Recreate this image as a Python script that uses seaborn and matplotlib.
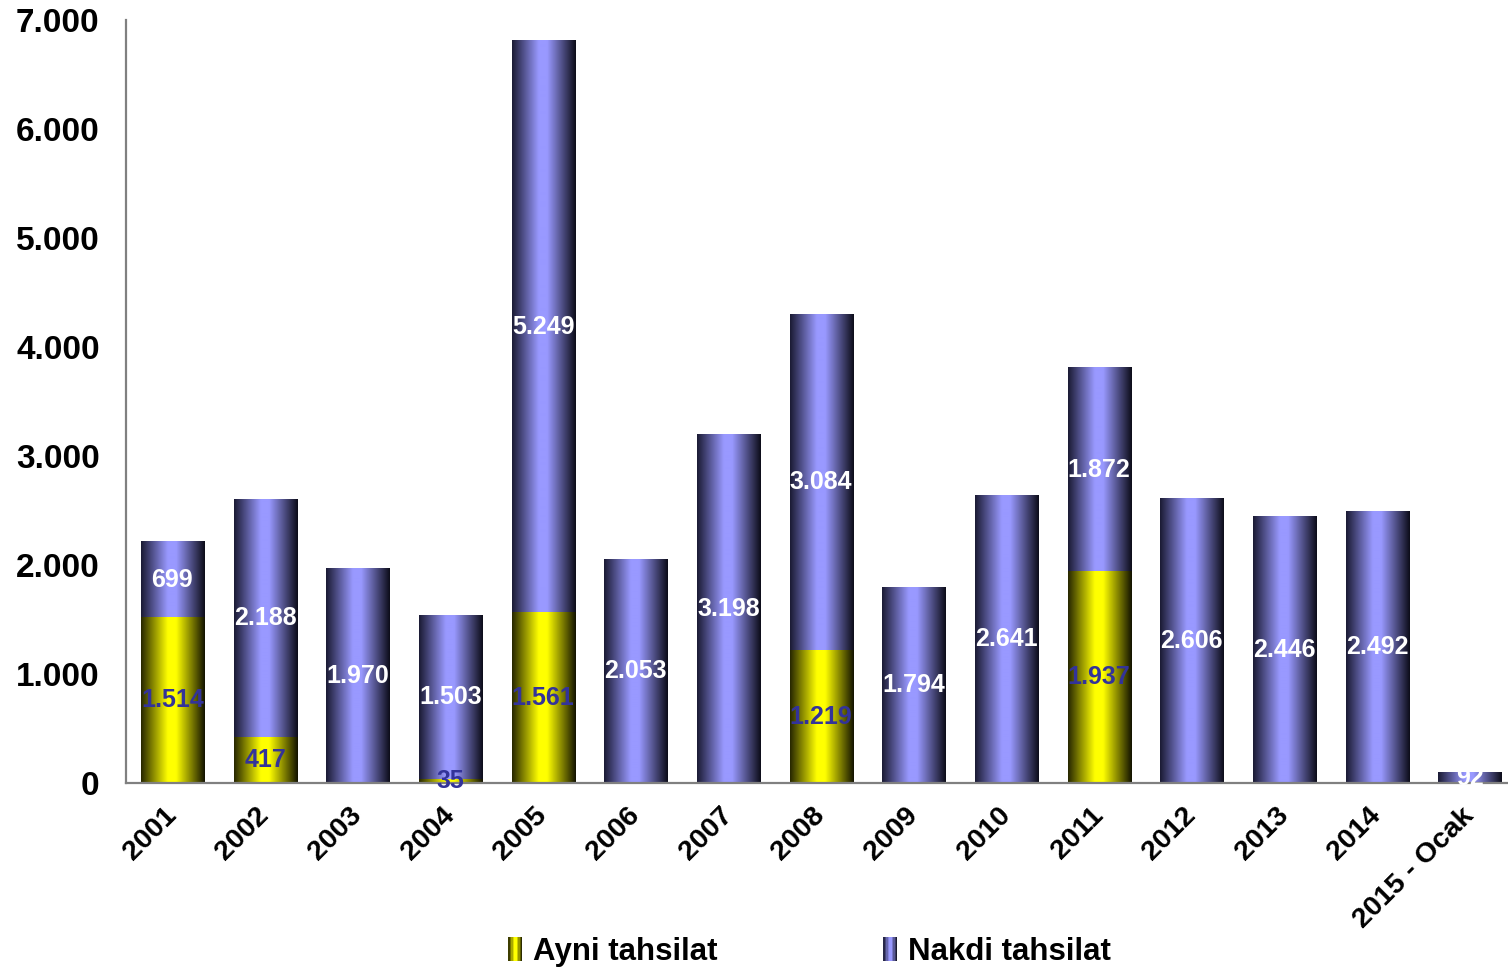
import numpy as np
import pandas as pd
import matplotlib
matplotlib.use("Agg")
import matplotlib.pyplot as plt
import matplotlib.transforms as mtransforms
import seaborn as sns
from matplotlib.colors import LinearSegmentedColormap
from matplotlib.legend_handler import HandlerBase
from matplotlib.patches import Rectangle

# chart data
years = ["2001", "2002", "2003", "2004", "2005", "2006", "2007", "2008",
         "2009", "2010", "2011", "2012", "2013", "2014", "2015 - Ocak"]
ayni = [1514, 417, 0, 35, 1561, 0, 0, 1219, 0, 0, 1937, 0, 0, 0, 0]
nakdi = [699, 2188, 1970, 1503, 5249, 2053, 3198, 3084, 1794, 2641, 1872, 2606, 2446, 2492, 92]
series_names = ["Ayni tahsilat", "Nakdi tahsilat"]

df = pd.DataFrame({"year": years, "ayni": ayni, "nakdi": nakdi})
df["total"] = df["ayni"] + df["nakdi"]


def fmt(v):
    return f"{v:,.0f}".replace(",", ".")


sns.set_style("white")
plt.rcParams["font.family"] = ["Liberation Sans", "DejaVu Sans"]
plt.rcParams["font.weight"] = "bold"
plt.rcParams["text.color"] = "black"
plt.rcParams["xtick.labelcolor"] = "black"
plt.rcParams["ytick.labelcolor"] = "black"

# cylinder-like shading
blue_cmap = LinearSegmentedColormap.from_list(
    "blue", [(0, "#1a1a33"), (0.42, "#9999ff"), (0.55, "#9999ff"), (1, "#0c0c18")])
yellow_cmap = LinearSegmentedColormap.from_list(
    "yellow", [(0, "#262600"), (0.42, "#ffff00"), (0.55, "#ffff00"), (1, "#121200")])

fig = plt.figure(figsize=(15.08, 9.73), dpi=100)
ax = fig.add_axes([0.0836, 0.1953, 0.9218, 0.7841])

sns.barplot(data=df, x="year", y="total", color="#9999ff", width=0.68,
            saturation=1, ax=ax)
n_blue = len(ax.patches)
sns.barplot(data=df, x="year", y="ayni", color="#ffff00", width=0.68,
            saturation=1, ax=ax)

grad = np.linspace(0, 1, 256).reshape(1, -1)
for i, p in enumerate(ax.patches):
    x0, y0, w, h = p.get_x(), p.get_y(), p.get_width(), p.get_height()
    p.set_facecolor("none")
    p.set_edgecolor("none")
    if h <= 0:
        continue
    cmap = blue_cmap if i < n_blue else yellow_cmap
    ax.imshow(grad, cmap=cmap, extent=(x0, x0 + w, y0, y0 + h), aspect="auto",
              interpolation="bilinear", zorder=1.5 if i < n_blue else 1.6)

# value labels
for i, (a, nk) in enumerate(zip(ayni, nakdi)):
    if a > 0:
        ax.text(i, a / 2, fmt(a), ha="center", va="center", fontsize=18,
                fontweight="bold", color="#333399", zorder=4)
    ax.text(i, a + nk / 2, fmt(nk), ha="center", va="center", fontsize=18,
            fontweight="bold", color="white", zorder=4)

ax.set_xlim(-0.5, len(years) - 0.5)
ax.set_ylim(0, 7000)
ax.set_yticks(range(0, 7001, 1000))
ax.set_yticklabels([fmt(v) for v in range(0, 7001, 1000)])
ax.set_xticks(range(len(years)))
ax.set_xticklabels(years)
ax.set_xticks(np.arange(-0.5, len(years), 1), minor=True)
ax.set_xlabel("")
ax.set_ylabel("")
ax.set_axisbelow(False)

axis_grey = "#808080"
for side in ["top", "right"]:
    ax.spines[side].set_visible(False)
for side in ["left", "bottom"]:
    ax.spines[side].set_color(axis_grey)
    ax.spines[side].set_linewidth(1.6)

ax.tick_params(axis="y", direction="inout", length=14, width=1.6, color=axis_grey,
               labelsize=24, pad=12)
ax.tick_params(axis="x", which="major", direction="inout", length=9.4, width=1.6,
               color=axis_grey, labelsize=20.5, pad=16)
ax.tick_params(axis="x", which="minor", direction="inout", length=13.7, width=1.6,
               color=axis_grey)
shift = mtransforms.ScaledTranslation(0, 0, fig.dpi_scale_trans)
for lab in ax.get_xticklabels():
    lab.set_rotation(45)
    lab.set_ha("right")
    lab.set_va("center")
    lab.set_rotation_mode("anchor")
    lab.set_transform(lab.get_transform() + shift)
for lab in ax.get_yticklabels() + ax.get_xticklabels():
    lab.set_fontweight("bold")


class GradHandler(HandlerBase):
    def __init__(self, cmap):
        super().__init__()
        self.cmap = cmap

    def create_artists(self, legend, orig_handle, xdescent, ydescent, width,
                       height, fontsize, trans):
        k = 10
        out = []
        for j in range(k):
            out.append(Rectangle((-xdescent + j * width / k, -ydescent), width / k,
                                 height, facecolor=self.cmap((j + 0.5) / k),
                                 edgecolor="none", lw=0, transform=trans))
        return out


h_ayni = Rectangle((0, 0), 1, 1)
h_nakdi = Rectangle((0, 0), 1, 1)
fig.legend([h_ayni, h_nakdi], series_names,
           handler_map={h_ayni: GradHandler(yellow_cmap), h_nakdi: GradHandler(blue_cmap)},
           loc="center", bbox_to_anchor=(0.537, 0.022), ncol=2, frameon=False,
           prop={"size": 22.5, "weight": "bold"}, handlelength=0.45, handleheight=0.8,
           handletextpad=0.35, columnspacing=5.3)

fig.savefig("out.png", dpi=100)
